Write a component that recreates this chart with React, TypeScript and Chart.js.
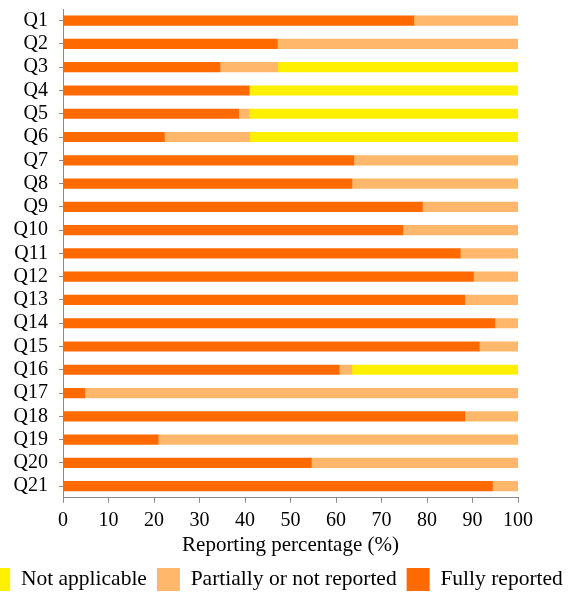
import React, { useEffect, useRef } from "react";
import { Chart, registerables } from "chart.js";

Chart.register(...registerables);

const categories = ["Q1","Q2","Q3","Q4","Q5","Q6","Q7","Q8","Q9","Q10","Q11","Q12","Q13","Q14","Q15","Q16","Q17","Q18","Q19","Q20","Q21"];
const fullyReported = [77.1, 47.1, 34.5, 40.9, 38.6, 22.3, 63.9, 63.5, 79.0, 74.7, 87.3, 90.2, 88.3, 94.9, 91.5, 60.7, 4.8, 88.3, 20.9, 54.6, 94.4];
const partiallyReported = [22.9, 52.9, 12.7, 0, 2.3, 18.7, 36.1, 36.5, 21.0, 25.3, 12.7, 9.8, 11.7, 5.1, 8.5, 2.8, 95.2, 11.7, 79.1, 45.4, 5.6];
const notApplicable = [0, 0, 52.8, 59.1, 59.1, 59.0, 0, 0, 0, 0, 0, 0, 0, 0, 0, 36.5, 0, 0, 0, 0, 0];
const xTicks = [0, 10, 20, 30, 40, 50, 60, 70, 80, 90, 100];

const FONT = "'Liberation Serif', 'Times New Roman', serif";
const AXIS = "#8a8a8a";

export default function App() {
  const ref = useRef<HTMLCanvasElement | null>(null);
  useEffect(() => {
    const canvas = ref.current!;
    const chart = new Chart(canvas, {
      type: "bar",
      data: {
        labels: categories,
        datasets: [
          { label: "Fully reported", data: fullyReported, backgroundColor: "#FF6A00", barThickness: 9.5 },
          { label: "Partially or not reported", data: partiallyReported, backgroundColor: "#FFB76B", barThickness: 9.5 },
          { label: "Not applicable", data: notApplicable, backgroundColor: "#FFF000", barThickness: 9.5 },
        ],
      },
      options: {
        indexAxis: "y",
        responsive: false,
        animation: false,
        layout: { padding: { top: 0, right: 0, left: 0, bottom: 0 } },
        plugins: {
          tooltip: { enabled: false },
          legend: {
            position: "bottom",
            reverse: true,
            labels: {
              boxWidth: 23,
              boxHeight: 23,
              padding: 10,
              color: "#000",
              font: { family: FONT, size: 21.5 },
            },
          },
        },
        scales: {
          x: {
            stacked: true,
            min: 0,
            max: 100,
            afterBuildTicks: (scale: any) => {
              scale.ticks = xTicks.map((v) => ({ value: v }));
            },
            grid: { display: true, drawOnChartArea: false, drawTicks: true, tickLength: 5, color: AXIS },
            border: { display: true, color: AXIS, width: 1 },
            ticks: { color: "#000", padding: 6, maxRotation: 0, autoSkip: false, font: { family: FONT, size: 20 } },
            title: { display: true, text: "Reporting percentage (%)", color: "#000", padding: { top: -6, bottom: 0 }, font: { family: FONT, size: 21 } },
          },
          y: {
            stacked: true,
            afterFit: (scale: any) => {
              scale.width = 88;
              scale.paddingTop = 9;
              scale.paddingBottom = 0;
            },
            grid: { display: true, offset: false, drawOnChartArea: false, drawTicks: true, tickLength: 4, color: AXIS },
            border: { display: true, color: AXIS, width: 1 },
            ticks: { color: "#000", padding: 11, autoSkip: false, font: { family: FONT, size: 20 } },
          },
          yRight: {
            type: "linear",
            axis: "y",
            position: "right",
            display: true,
            grid: { display: false },
            border: { display: false },
            ticks: { display: false },
            afterFit: (scale: any) => {
              scale.width = 57;
              scale.paddingTop = 0;
              scale.paddingBottom = 0;
            },
          },
        },
      },
    });
    return () => chart.destroy();
  }, []);
  return (
    <div style={{ position: "fixed", left: 0, top: 0, width: 571, height: 592, overflow: "hidden", background: "#fff" }}>
      <canvas ref={ref} width={600} height={601} style={{ position: "absolute", left: -25, top: 0, width: 600, height: 601 }} />
    </div>
  );
}
